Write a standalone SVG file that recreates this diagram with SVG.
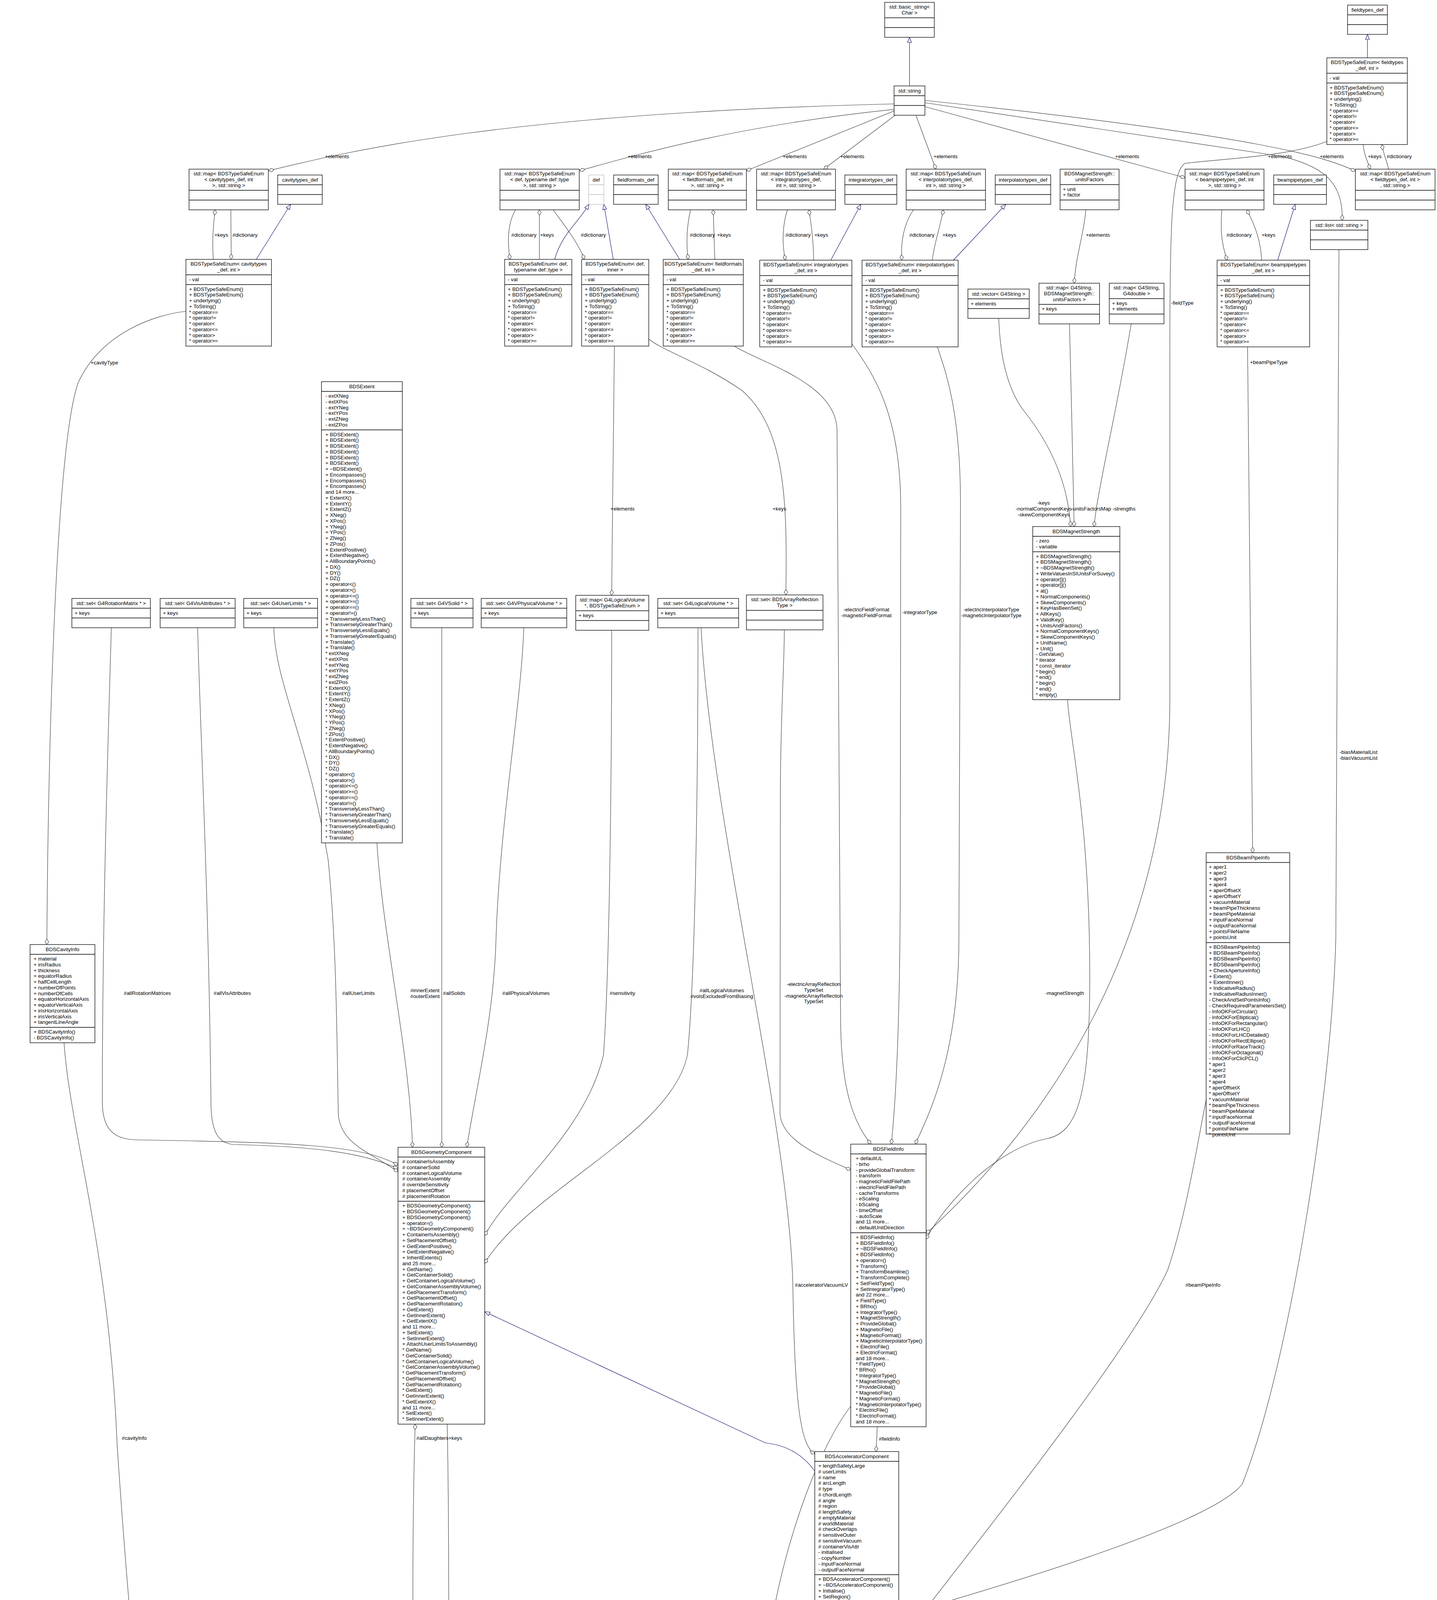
<svg xmlns="http://www.w3.org/2000/svg" width="3679" height="5228" viewBox="0 0 3679 5228">
<style>
text{font-family:"Liberation Sans",Arial,Helvetica,sans-serif;font-size:13.3px;fill:#000}
.c{text-anchor:middle}
.b{fill:#fff;stroke:#000;stroke-width:1.3}
.gr{fill:#bfbfbf;stroke:#000;stroke-width:1.3}
.gb{fill:#fff;stroke:#bfbfbf;stroke-width:1.3}
.s{stroke:#000;stroke-width:1.3;fill:none}
.sg{stroke:#bfbfbf;stroke-width:1.3;fill:none}
.e{fill:none;stroke:#404040;stroke-width:1.2;marker-start:url(#dia)}
.i{fill:none;stroke:#191970;stroke-width:1.2;marker-end:url(#tri)}
</style>
<defs>
<marker id="dia" markerUnits="userSpaceOnUse" markerWidth="20" markerHeight="14" viewBox="-2 -7 20 14" refX="0" refY="0" orient="auto"><path d="M0,0 L7,-4.5 L14,0 L7,4.5Z" fill="#fff" stroke="#404040" stroke-width="1.2"/></marker>
<marker id="tri" markerUnits="userSpaceOnUse" markerWidth="20" markerHeight="14" viewBox="-16 -7 18 14" refX="0" refY="0" orient="auto"><path d="M0,0 L-13,-5 L-13,5Z" fill="#fff" stroke="#191970" stroke-width="1.2"/></marker>
</defs>
<rect width="3679" height="5228" fill="#fff"/>

<g id="edges">
<path class="i" d="M2328.5,220 L2328.5,95.5"/>
<path class="i" d="M3501,148 L3501,88"/>
<path class="i" d="M656,664 L744,523"/>
<path class="i" d="M1420,664 C1438,600 1480,570 1508,523"/>
<path class="i" d="M1570,664 L1546,523"/>
<path class="i" d="M1740,664 L1653,523"/>
<path class="i" d="M2127,666 L2204,523"/>
<path class="i" d="M2441,666 L2575,523"/>
<path class="i" d="M3271,666 L3316,523"/>
<path class="e" d="M688,437 C900,385 1300,290 2289,266"/>
<path class="e" d="M1484,437 C1650,390 1900,320 2289,280"/>
<path class="e" d="M1911,437 L2289,284"/>
<path class="e" d="M2109,433 L2292,295"/>
<path class="e" d="M2396,433 L2345,295"/>
<path class="e" d="M3034,455 L2368,273"/>
<path class="e" d="M3436,564 C3440,470 3390,425 3280,400 L2368,263"/>
<path class="e" d="M3470,438 C3400,405 3250,350 2368,257"/>
<path class="e" d="M551,537 C545,580 543,620 546,664"/>
<path class="e" d="M592,664 L591,537"/>
<path class="e" d="M1381,537 L1381,664"/>
<path class="e" d="M1306,664 C1298,620 1300,570 1320,537"/>
<path class="e" d="M1496,664 C1480,620 1440,570 1416,537"/>
<path class="e" d="M1762,664 C1756,620 1758,580 1768,537"/>
<path class="e" d="M1826,537 L1830,664"/>
<path class="e" d="M2011,666 C2000,620 2005,570 2016,537"/>
<path class="e" d="M2071,537 C2078,580 2083,620 2083,666"/>
<path class="e" d="M2309,666 C2305,620 2315,570 2339,537"/>
<path class="e" d="M2415,537 C2405,590 2390,630 2387,666"/>
<path class="e" d="M2750,725 C2755,650 2775,600 2780,537"/>
<path class="e" d="M3142,666 C3125,620 3125,580 3128,537"/>
<path class="e" d="M3192,537 C3215,580 3228,620 3230,666"/>
<path class="e" d="M3508,433 C3500,410 3492,395 3490,370"/>
<path class="e" d="M3538,370 C3542,395 3550,410 3555,433"/>
<path class="e" d="M2371,3158 C2600,2950 2990,2500 2995,1800 L2995,900 C2995,560 3000,440 3034,418 C3150,405 3300,400 3397,362"/>
<path class="e" d="M2371,3172 C2420,3080 2550,2940 2680,2915 C2760,2900 2790,2800 2790,2500 C2790,2100 2740,1900 2733,1791"/>
<path class="e" d="M2230,2929 C2190,2880 2152,2800 2152,2600 L2143,1100 C2140,980 1950,930 1880,886"/>
<path class="e" d="M2282,2929 C2295,2800 2305,2600 2305,2200 L2306,1300 C2306,1050 2230,950 2181,880"/>
<path class="e" d="M2343,2929 C2380,2850 2455,2700 2455,2400 L2459,1300 C2460,1050 2420,950 2400,888"/>
<path class="e" d="M2741,1348 C2735,1250 2700,1150 2620,1050 C2575,990 2560,900 2557,815"/>
<path class="e" d="M2750,1348 C2748,1200 2742,1000 2738,829"/>
<path class="e" d="M2801,1348 C2810,1250 2860,1050 2896,829"/>
<path class="e" d="M1566,1524 C1568,1300 1572,1000 1573,886"/>
<path class="e" d="M2012,1523 C2015,1300 2015,1100 1900,1000 C1800,930 1700,900 1661,868"/>
<path class="e" d="M1056,2937 C1050,2700 980,2400 965,2158"/>
<path class="e" d="M1131,2937 L1131,1607"/>
<path class="e" d="M1195,2937 C1220,2780 1265,2600 1270,2400 C1280,2100 1335,1800 1341,1607"/>
<path class="e" d="M1019,2983 C930,2930 750,2925 350,2918 C290,2917 262,2890 262,2820 C262,2300 280,1800 285,1607"/>
<path class="e" d="M1019,2992 C930,2950 800,2935 600,2930 C560,2928 540,2900 540,2820 C535,2300 510,1800 506,1607"/>
<path class="e" d="M1019,3000 C950,2950 870,2930 866,2850 C862,2600 860,2400 840,2200 C790,1900 705,1750 701,1607"/>
<path class="e" d="M1241,3163 C1300,3050 1500,2900 1545,2700 C1560,2500 1566,2000 1566,1614"/>
<path class="e" d="M1241,3234 C1350,3050 1720,2900 1760,2700 C1780,2500 1787,2000 1787,1607"/>
<path class="e" d="M2086,3722 C2050,3700 2035,3600 2030,3300 C2025,2900 1820,2100 1795,1607"/>
<path class="e" d="M2178,2995 C2100,2960 2000,2920 1997,2850 L1998,2000 C2000,1800 2008,1700 2008,1613"/>
<path class="e" d="M1896,5013 C1900,4800 1925,4500 1960,4250 C2000,3950 2100,3700 2178,3600"/>
<path class="e" d="M2243,3716 L2246,3652"/>
<path class="e" d="M1063,3646 C1055,3900 1055,4300 1063,4567"/>
<path class="e" d="M1145,4567 C1150,4300 1150,3900 1145,3646"/>
<path class="i" d="M2086,3766 C2060,3730 2020,3700 1960,3694 L1241,3358"/>
<path class="i" d="M2002,5013 C2030,4960 2060,4900 2086,4845"/>
<path class="i" d="M2208,5028 C2215,5000 2222,4980 2222,4941"/>
<path class="e" d="M2138,4941 C2130,4960 2115,4985 2128,5028"/>
<path class="e" d="M1823,5108 C1500,5080 600,5050 450,4950 C380,4800 320,4000 300,3700 C280,3200 180,2900 164,2670"/>
<path class="e" d="M120,2418 C122,2000 140,1150 200,980 C260,850 400,805 476,797"/>
<path class="e" d="M3207,2183 C3205,1600 3196,1100 3194,888"/>
<path class="e" d="M2301,4208 C2500,3950 2900,3450 2990,3250 C3040,3100 3070,2900 3088,2816"/>
<path class="e" d="M2301,4136 C2600,4050 3100,3900 3180,3800 C3300,3500 3410,2800 3420,2400 L3428,639"/>
</g>

<g id="edge-labels">
<text x="832" y="405">+elements</text>
<text x="1607" y="405">+elements</text>
<text x="2004" y="405">+elements</text>
<text x="2151" y="405">+elements</text>
<text x="2390" y="405">+elements</text>
<text x="2855" y="405">+elements</text>
<text x="3246" y="405">+elements</text>
<text x="3379" y="405">+elements</text>
<text x="3502" y="405">+keys</text>
<text x="3550" y="405">#dictionary</text>
<text x="549" y="606">+keys</text>
<text x="595" y="606">#dictionary</text>
<text x="1309" y="606">#dictionary</text>
<text x="1383" y="606">+keys</text>
<text x="1487" y="606">#dictionary</text>
<text x="1766" y="606">#dictionary</text>
<text x="1836" y="606">+keys</text>
<text x="2011" y="606">#dictionary</text>
<text x="2085" y="606">+keys</text>
<text x="2328" y="606">#dictionary</text>
<text x="2413" y="606">+keys</text>
<text x="2780" y="606">+elements</text>
<text x="3140" y="606">#dictionary</text>
<text x="3230" y="606">+keys</text>
<text x="2998" y="780">-fieldType</text>
<text x="232" y="933">+cavityType</text>
<text x="3200" y="932">+beamPipeType</text>
<text x="1563" y="1307">+elements</text>
<text x="1978" y="1307">+keys</text>
<text class="c" x="2672" y="1292"><tspan x="2672">-keys</tspan><tspan x="2672" dy="14.75">-normalComponentKeys</tspan><tspan x="2672" dy="14.75">-skewComponentKeys</tspan></text>
<text x="2742" y="1307">-unitsFactorsMap</text>
<text x="2848" y="1307">-strengths</text>
<text class="c" x="2218" y="1565"><tspan x="2218">-electricFieldFormat</tspan><tspan x="2218" dy="14.75">-magneticFieldFormat</tspan></text>
<text x="2310" y="1572">-integratorType</text>
<text class="c" x="2538" y="1565"><tspan x="2538">-electricInterpolatorType</tspan><tspan x="2538" dy="14.75">-magneticInterpolatorType</tspan></text>
<text class="c" x="3478" y="1930"><tspan x="3478">-biasMaterialList</tspan><tspan x="3478" dy="14.75">-biasVacuumList</tspan></text>
<text x="317" y="2547">#allRotationMatrices</text>
<text x="547" y="2547">#allVisAttributes</text>
<text x="876" y="2547">#allUserLimits</text>
<text class="c" x="1088" y="2540"><tspan x="1088">#innerExtent</tspan><tspan x="1088" dy="14.75">#outerExtent</tspan></text>
<text x="1134" y="2547">#allSolids</text>
<text x="1286" y="2547">#allPhysicalVolumes</text>
<text x="1561" y="2547">#sensitivity</text>
<text class="c" x="1848" y="2540"><tspan x="1848">#allLogicalVolumes</tspan><tspan x="1848" dy="14.75">#volsExcludedFromBiasing</tspan></text>
<text class="c" x="2083" y="2524"><tspan x="2083">-electricArrayReflection</tspan><tspan x="2083" dy="14.75">TypeSet</tspan><tspan x="2083" dy="14.75">-magneticArrayReflection</tspan><tspan x="2083" dy="14.75">TypeSet</tspan></text>
<text x="2676" y="2547">-magnetStrength</text>
<text x="2035" y="3294">#acceleratorVacuumLV</text>
<text x="3035" y="3294">#beamPipeInfo</text>
<text x="312" y="3686">#cavityInfo</text>
<text x="1066" y="3686">#allDaughters</text>
<text x="1148" y="3686">+keys</text>
<text x="2250" y="3688">#fieldInfo</text>
<text x="1958" y="4510">#vacuumFieldInfo</text>
<text x="2120" y="4966"><tspan x="2120">#endPieceAfter</tspan><tspan x="2120" dy="14.75">#endPieceBefore</tspan></text>
</g>

<g id="n_basic_string"><rect class="b" x="2265" y="6" width="127" height="89.5"/><path class="s" d="M2265,45.5h127M2265,70.5h127"/><text class="c" x="2328.5" y="22"><tspan x="2328.5">std::basic_string&lt;</tspan><tspan x="2328.5" dy="14.75">Char &gt;</tspan></text></g>
<g id="n_string"><rect class="b" x="2289" y="220" width="79" height="75"/><path class="s" d="M2289,245h79M2289,270h79"/><text class="c" x="2328.5" y="237">std::string</text></g>
<g id="n_fieldtypes_def"><rect class="b" x="3450" y="13" width="102" height="75"/><path class="s" d="M3450,38h102M3450,63h102"/><text class="c" x="3501" y="30">fieldtypes_def</text></g>
<g id="n_tse_fieldtypes"><rect class="b" x="3397" y="148" width="206" height="222"/><path class="s" d="M3397,187.5h206M3397,212.5h206"/><text class="c" x="3500" y="164"><tspan x="3500">BDSTypeSafeEnum&lt; fieldtypes</tspan><tspan x="3500" dy="14.75">_def, int &gt;</tspan></text><text x="3404" y="203.5">- val</text><text x="3404" y="228.5"><tspan x="3404">+ BDSTypeSafeEnum()</tspan><tspan x="3404" dy="14.75">+ BDSTypeSafeEnum()</tspan><tspan x="3404" dy="14.75">+ underlying()</tspan><tspan x="3404" dy="14.75">+ ToString()</tspan><tspan x="3404" dy="14.75">* operator==</tspan><tspan x="3404" dy="14.75">* operator!=</tspan><tspan x="3404" dy="14.75">* operator&lt;</tspan><tspan x="3404" dy="14.75">* operator&lt;=</tspan><tspan x="3404" dy="14.75">* operator&gt;</tspan><tspan x="3404" dy="14.75">* operator&gt;=</tspan></text></g>
<g id="n_map_fieldtypes"><rect class="b" x="3470" y="433" width="204" height="104.25"/><path class="s" d="M3470,487.25h204M3470,512.25h204"/><text class="c" x="3572" y="449"><tspan x="3572">std::map&lt; BDSTypeSafeEnum</tspan><tspan x="3572" dy="14.75">&lt; fieldtypes_def, int &gt;</tspan><tspan x="3572" dy="14.75">, std::string &gt;</tspan></text></g>
<g id="n_list_string"><rect class="b" x="3355" y="564" width="147" height="75"/><path class="s" d="M3355,589h147M3355,614h147"/><text class="c" x="3428.5" y="581">std::list&lt; std::string &gt;</text></g>
<g id="n_map_beampipetypes"><rect class="b" x="3034" y="433" width="202" height="104.25"/><path class="s" d="M3034,487.25h202M3034,512.25h202"/><text class="c" x="3135" y="449"><tspan x="3135">std::map&lt; BDSTypeSafeEnum</tspan><tspan x="3135" dy="14.75">&lt; beampipetypes_def, int</tspan><tspan x="3135" dy="14.75">&gt;, std::string &gt;</tspan></text></g>
<g id="n_beampipetypes_def"><rect class="b" x="3261" y="448" width="135" height="75"/><path class="s" d="M3261,473h135M3261,498h135"/><text class="c" x="3328.5" y="465">beampipetypes_def</text></g>
<g id="n_tse_beampipetypes"><rect class="b" x="3116" y="666" width="237" height="222"/><path class="s" d="M3116,705.5h237M3116,730.5h237"/><text class="c" x="3234.5" y="682"><tspan x="3234.5">BDSTypeSafeEnum&lt; beampipetypes</tspan><tspan x="3234.5" dy="14.75">_def, int &gt;</tspan></text><text x="3124" y="721.5">- val</text><text x="3124" y="746.5"><tspan x="3124">+ BDSTypeSafeEnum()</tspan><tspan x="3124" dy="14.75">+ BDSTypeSafeEnum()</tspan><tspan x="3124" dy="14.75">+ underlying()</tspan><tspan x="3124" dy="14.75">+ ToString()</tspan><tspan x="3124" dy="14.75">* operator==</tspan><tspan x="3124" dy="14.75">* operator!=</tspan><tspan x="3124" dy="14.75">* operator&lt;</tspan><tspan x="3124" dy="14.75">* operator&lt;=</tspan><tspan x="3124" dy="14.75">* operator&gt;</tspan><tspan x="3124" dy="14.75">* operator&gt;=</tspan></text></g>
<g id="n_unitsFactors"><rect class="b" x="2714" y="433" width="151" height="104"/><path class="s" d="M2714,472.5h151M2714,512h151"/><text class="c" x="2789.5" y="449"><tspan x="2789.5">BDSMagnetStrength::</tspan><tspan x="2789.5" dy="14.75">unitsFactors</tspan></text><text x="2721" y="488.5"><tspan x="2721">+ unit</tspan><tspan x="2721" dy="14.75">+ factor</tspan></text></g>
<g id="n_map_unitsFactors"><rect class="b" x="2660" y="725" width="155" height="104.25"/><path class="s" d="M2660,779.25h155M2660,804.25h155"/><text class="c" x="2737.5" y="741"><tspan x="2737.5">std::map&lt; G4String,</tspan><tspan x="2737.5" dy="14.75">BDSMagnetStrength::</tspan><tspan x="2737.5" dy="14.75">unitsFactors &gt;</tspan></text><text x="2667" y="795.25">+ keys</text></g>
<g id="n_map_G4double"><rect class="b" x="2840" y="725" width="140" height="104"/><path class="s" d="M2840,764.5h140M2840,804h140"/><text class="c" x="2910" y="741"><tspan x="2910">std::map&lt; G4String,</tspan><tspan x="2910" dy="14.75">G4double &gt;</tspan></text><text x="2847" y="780.5"><tspan x="2847">+ keys</tspan><tspan x="2847" dy="14.75">+ elements</tspan></text></g>
<g id="n_vector_G4String"><rect class="b" x="2478" y="740" width="157" height="75"/><path class="s" d="M2478,765h157M2478,790h157"/><text class="c" x="2556.5" y="757">std::vector&lt; G4String &gt;</text><text x="2485" y="782">+ elements</text></g>
<g id="n_tse_interpolatortypes"><rect class="b" x="2207" y="666" width="246" height="222"/><path class="s" d="M2207,705.5h246M2207,730.5h246"/><text class="c" x="2330" y="682"><tspan x="2330">BDSTypeSafeEnum&lt; interpolatortypes</tspan><tspan x="2330" dy="14.75">_def, int &gt;</tspan></text><text x="2215" y="721.5">- val</text><text x="2215" y="746.5"><tspan x="2215">+ BDSTypeSafeEnum()</tspan><tspan x="2215" dy="14.75">+ BDSTypeSafeEnum()</tspan><tspan x="2215" dy="14.75">+ underlying()</tspan><tspan x="2215" dy="14.75">+ ToString()</tspan><tspan x="2215" dy="14.75">* operator==</tspan><tspan x="2215" dy="14.75">* operator!=</tspan><tspan x="2215" dy="14.75">* operator&lt;</tspan><tspan x="2215" dy="14.75">* operator&lt;=</tspan><tspan x="2215" dy="14.75">* operator&gt;</tspan><tspan x="2215" dy="14.75">* operator&gt;=</tspan></text></g>
<g id="n_interpolatortypes_def"><rect class="b" x="2548" y="448" width="142" height="75"/><path class="s" d="M2548,473h142M2548,498h142"/><text class="c" x="2619" y="465">interpolatortypes_def</text></g>
<g id="n_map_interpolatortypes"><rect class="b" x="2320" y="433" width="203" height="104.25"/><path class="s" d="M2320,487.25h203M2320,512.25h203"/><text class="c" x="2421.5" y="449"><tspan x="2421.5">std::map&lt; BDSTypeSafeEnum</tspan><tspan x="2421.5" dy="14.75">&lt; interpolatortypes_def,</tspan><tspan x="2421.5" dy="14.75">int &gt;, std::string &gt;</tspan></text></g>
<g id="n_tse_integratortypes"><rect class="b" x="1945" y="666" width="236" height="222"/><path class="s" d="M1945,705.5h236M1945,730.5h236"/><text class="c" x="2063" y="682"><tspan x="2063">BDSTypeSafeEnum&lt; integratortypes</tspan><tspan x="2063" dy="14.75">_def, int &gt;</tspan></text><text x="1953" y="721.5">- val</text><text x="1953" y="746.5"><tspan x="1953">+ BDSTypeSafeEnum()</tspan><tspan x="1953" dy="14.75">+ BDSTypeSafeEnum()</tspan><tspan x="1953" dy="14.75">+ underlying()</tspan><tspan x="1953" dy="14.75">+ ToString()</tspan><tspan x="1953" dy="14.75">* operator==</tspan><tspan x="1953" dy="14.75">* operator!=</tspan><tspan x="1953" dy="14.75">* operator&lt;</tspan><tspan x="1953" dy="14.75">* operator&lt;=</tspan><tspan x="1953" dy="14.75">* operator&gt;</tspan><tspan x="1953" dy="14.75">* operator&gt;=</tspan></text></g>
<g id="n_integratortypes_def"><rect class="b" x="2163" y="448" width="133" height="75"/><path class="s" d="M2163,473h133M2163,498h133"/><text class="c" x="2229.5" y="465">integratortypes_def</text></g>
<g id="n_map_integratortypes"><rect class="b" x="1937" y="433" width="202" height="104.25"/><path class="s" d="M1937,487.25h202M1937,512.25h202"/><text class="c" x="2038" y="449"><tspan x="2038">std::map&lt; BDSTypeSafeEnum</tspan><tspan x="2038" dy="14.75">&lt; integratortypes_def,</tspan><tspan x="2038" dy="14.75">int &gt;, std::string &gt;</tspan></text></g>
<g id="n_map_fieldformats"><rect class="b" x="1711" y="433" width="200" height="104.25"/><path class="s" d="M1711,487.25h200M1711,512.25h200"/><text class="c" x="1811" y="449"><tspan x="1811">std::map&lt; BDSTypeSafeEnum</tspan><tspan x="1811" dy="14.75">&lt; fieldformats_def, int</tspan><tspan x="1811" dy="14.75">&gt;, std::string &gt;</tspan></text></g>
<g id="n_fieldformats_def"><rect class="b" x="1571" y="448" width="114" height="75"/><path class="s" d="M1571,473h114M1571,498h114"/><text class="c" x="1628" y="465">fieldformats_def</text></g>
<g id="n_tse_fieldformats"><rect class="b" x="1698" y="664" width="205" height="222"/><path class="s" d="M1698,703.5h205M1698,728.5h205"/><text class="c" x="1800.5" y="680"><tspan x="1800.5">BDSTypeSafeEnum&lt; fieldformats</tspan><tspan x="1800.5" dy="14.75">_def, int &gt;</tspan></text><text x="1706" y="719.5">- val</text><text x="1706" y="744.5"><tspan x="1706">+ BDSTypeSafeEnum()</tspan><tspan x="1706" dy="14.75">+ BDSTypeSafeEnum()</tspan><tspan x="1706" dy="14.75">+ underlying()</tspan><tspan x="1706" dy="14.75">+ ToString()</tspan><tspan x="1706" dy="14.75">* operator==</tspan><tspan x="1706" dy="14.75">* operator!=</tspan><tspan x="1706" dy="14.75">* operator&lt;</tspan><tspan x="1706" dy="14.75">* operator&lt;=</tspan><tspan x="1706" dy="14.75">* operator&gt;</tspan><tspan x="1706" dy="14.75">* operator&gt;=</tspan></text></g>
<g id="n_def"><rect class="gb" x="1507" y="448" width="39" height="75"/><path class="sg" d="M1507,473h39M1507,498h39"/><text class="c" x="1526.5" y="465">def</text></g>
<g id="n_map_def"><rect class="b" x="1280" y="433" width="203" height="104.25"/><path class="s" d="M1280,487.25h203M1280,512.25h203"/><text class="c" x="1381.5" y="449"><tspan x="1381.5">std::map&lt; BDSTypeSafeEnum</tspan><tspan x="1381.5" dy="14.75">&lt; def, typename def::type</tspan><tspan x="1381.5" dy="14.75">&gt;, std::string &gt;</tspan></text></g>
<g id="n_tse_def_type"><rect class="b" x="1292" y="664" width="172" height="222"/><path class="s" d="M1292,703.5h172M1292,728.5h172"/><text class="c" x="1378" y="680"><tspan x="1378">BDSTypeSafeEnum&lt; def,</tspan><tspan x="1378" dy="14.75">typename def::type &gt;</tspan></text><text x="1300" y="719.5">- val</text><text x="1300" y="744.5"><tspan x="1300">+ BDSTypeSafeEnum()</tspan><tspan x="1300" dy="14.75">+ BDSTypeSafeEnum()</tspan><tspan x="1300" dy="14.75">+ underlying()</tspan><tspan x="1300" dy="14.75">+ ToString()</tspan><tspan x="1300" dy="14.75">* operator==</tspan><tspan x="1300" dy="14.75">* operator!=</tspan><tspan x="1300" dy="14.75">* operator&lt;</tspan><tspan x="1300" dy="14.75">* operator&lt;=</tspan><tspan x="1300" dy="14.75">* operator&gt;</tspan><tspan x="1300" dy="14.75">* operator&gt;=</tspan></text></g>
<g id="n_tse_def_inner"><rect class="b" x="1489" y="664" width="172" height="222"/><path class="s" d="M1489,703.5h172M1489,728.5h172"/><text class="c" x="1575" y="680"><tspan x="1575">BDSTypeSafeEnum&lt; def,</tspan><tspan x="1575" dy="14.75">inner &gt;</tspan></text><text x="1497" y="719.5">- val</text><text x="1497" y="744.5"><tspan x="1497">+ BDSTypeSafeEnum()</tspan><tspan x="1497" dy="14.75">+ BDSTypeSafeEnum()</tspan><tspan x="1497" dy="14.75">+ underlying()</tspan><tspan x="1497" dy="14.75">+ ToString()</tspan><tspan x="1497" dy="14.75">* operator==</tspan><tspan x="1497" dy="14.75">* operator!=</tspan><tspan x="1497" dy="14.75">* operator&lt;</tspan><tspan x="1497" dy="14.75">* operator&lt;=</tspan><tspan x="1497" dy="14.75">* operator&gt;</tspan><tspan x="1497" dy="14.75">* operator&gt;=</tspan></text></g>
<g id="n_map_cavitytypes"><rect class="b" x="484" y="433" width="203" height="104.25"/><path class="s" d="M484,487.25h203M484,512.25h203"/><text class="c" x="585.5" y="449"><tspan x="585.5">std::map&lt; BDSTypeSafeEnum</tspan><tspan x="585.5" dy="14.75">&lt; cavitytypes_def, int</tspan><tspan x="585.5" dy="14.75">&gt;, std::string &gt;</tspan></text></g>
<g id="n_cavitytypes_def"><rect class="b" x="711" y="448" width="114" height="75"/><path class="s" d="M711,473h114M711,498h114"/><text class="c" x="768" y="465">cavitytypes_def</text></g>
<g id="n_tse_cavitytypes"><rect class="b" x="476" y="664" width="219" height="222"/><path class="s" d="M476,703.5h219M476,728.5h219"/><text class="c" x="585.5" y="680"><tspan x="585.5">BDSTypeSafeEnum&lt; cavitytypes</tspan><tspan x="585.5" dy="14.75">_def, int &gt;</tspan></text><text x="484" y="719.5">- val</text><text x="484" y="744.5"><tspan x="484">+ BDSTypeSafeEnum()</tspan><tspan x="484" dy="14.75">+ BDSTypeSafeEnum()</tspan><tspan x="484" dy="14.75">+ underlying()</tspan><tspan x="484" dy="14.75">+ ToString()</tspan><tspan x="484" dy="14.75">* operator==</tspan><tspan x="484" dy="14.75">* operator!=</tspan><tspan x="484" dy="14.75">* operator&lt;</tspan><tspan x="484" dy="14.75">* operator&lt;=</tspan><tspan x="484" dy="14.75">* operator&gt;</tspan><tspan x="484" dy="14.75">* operator&gt;=</tspan></text></g>

<g id="n_BDSExtent"><rect class="b" x="823" y="977" width="207" height="1180.75"/><path class="s" d="M823,1002h207M823,1100.5h207"/><text class="c" x="926.5" y="994">BDSExtent</text><text x="833" y="1018"><tspan x="833">- extXNeg</tspan><tspan x="833" dy="14.75">- extXPos</tspan><tspan x="833" dy="14.75">- extYNeg</tspan><tspan x="833" dy="14.75">- extYPos</tspan><tspan x="833" dy="14.75">- extZNeg</tspan><tspan x="833" dy="14.75">- extZPos</tspan></text><text x="833" y="1116.5"><tspan x="833">+ BDSExtent()</tspan><tspan x="833" dy="14.75">+ BDSExtent()</tspan><tspan x="833" dy="14.75">+ BDSExtent()</tspan><tspan x="833" dy="14.75">+ BDSExtent()</tspan><tspan x="833" dy="14.75">+ BDSExtent()</tspan><tspan x="833" dy="14.75">+ BDSExtent()</tspan><tspan x="833" dy="14.75">+ ~BDSExtent()</tspan><tspan x="833" dy="14.75">+ Encompasses()</tspan><tspan x="833" dy="14.75">+ Encompasses()</tspan><tspan x="833" dy="14.75">+ Encompasses()</tspan><tspan x="833" dy="14.75">and 14 more...</tspan><tspan x="833" dy="14.75">+ ExtentX()</tspan><tspan x="833" dy="14.75">+ ExtentY()</tspan><tspan x="833" dy="14.75">+ ExtentZ()</tspan><tspan x="833" dy="14.75">+ XNeg()</tspan><tspan x="833" dy="14.75">+ XPos()</tspan><tspan x="833" dy="14.75">+ YNeg()</tspan><tspan x="833" dy="14.75">+ YPos()</tspan><tspan x="833" dy="14.75">+ ZNeg()</tspan><tspan x="833" dy="14.75">+ ZPos()</tspan><tspan x="833" dy="14.75">+ ExtentPositive()</tspan><tspan x="833" dy="14.75">+ ExtentNegative()</tspan><tspan x="833" dy="14.75">+ AllBoundaryPoints()</tspan><tspan x="833" dy="14.75">+ DX()</tspan><tspan x="833" dy="14.75">+ DY()</tspan><tspan x="833" dy="14.75">+ DZ()</tspan><tspan x="833" dy="14.75">+ operator&lt;()</tspan><tspan x="833" dy="14.75">+ operator&gt;()</tspan><tspan x="833" dy="14.75">+ operator&lt;=()</tspan><tspan x="833" dy="14.75">+ operator&gt;=()</tspan><tspan x="833" dy="14.75">+ operator==()</tspan><tspan x="833" dy="14.75">+ operator!=()</tspan><tspan x="833" dy="14.75">+ TransverselyLessThan()</tspan><tspan x="833" dy="14.75">+ TransverselyGreaterThan()</tspan><tspan x="833" dy="14.75">+ TransverselyLessEquals()</tspan><tspan x="833" dy="14.75">+ TransverselyGreaterEquals()</tspan><tspan x="833" dy="14.75">+ Translate()</tspan><tspan x="833" dy="14.75">+ Translate()</tspan><tspan x="833" dy="14.75">* extXNeg</tspan><tspan x="833" dy="14.75">* extXPos</tspan><tspan x="833" dy="14.75">* extYNeg</tspan><tspan x="833" dy="14.75">* extYPos</tspan><tspan x="833" dy="14.75">* extZNeg</tspan><tspan x="833" dy="14.75">* extZPos</tspan><tspan x="833" dy="14.75">* ExtentX()</tspan><tspan x="833" dy="14.75">* ExtentY()</tspan><tspan x="833" dy="14.75">* ExtentZ()</tspan><tspan x="833" dy="14.75">* XNeg()</tspan><tspan x="833" dy="14.75">* XPos()</tspan><tspan x="833" dy="14.75">* YNeg()</tspan><tspan x="833" dy="14.75">* YPos()</tspan><tspan x="833" dy="14.75">* ZNeg()</tspan><tspan x="833" dy="14.75">* ZPos()</tspan><tspan x="833" dy="14.75">* ExtentPositive()</tspan><tspan x="833" dy="14.75">* ExtentNegative()</tspan><tspan x="833" dy="14.75">* AllBoundaryPoints()</tspan><tspan x="833" dy="14.75">* DX()</tspan><tspan x="833" dy="14.75">* DY()</tspan><tspan x="833" dy="14.75">* DZ()</tspan><tspan x="833" dy="14.75">* operator&lt;()</tspan><tspan x="833" dy="14.75">* operator&gt;()</tspan><tspan x="833" dy="14.75">* operator&lt;=()</tspan><tspan x="833" dy="14.75">* operator&gt;=()</tspan><tspan x="833" dy="14.75">* operator==()</tspan><tspan x="833" dy="14.75">* operator!=()</tspan><tspan x="833" dy="14.75">* TransverselyLessThan()</tspan><tspan x="833" dy="14.75">* TransverselyGreaterThan()</tspan><tspan x="833" dy="14.75">* TransverselyLessEquals()</tspan><tspan x="833" dy="14.75">* TransverselyGreaterEquals()</tspan><tspan x="833" dy="14.75">* Translate()</tspan><tspan x="833" dy="14.75">* Translate()</tspan></text></g>

<g id="n_set_rot"><rect class="b" x="184" y="1532" width="201" height="75"/><path class="s" d="M184,1557h201M184,1582h201"/><text class="c" x="284.5" y="1549">std::set&lt; G4RotationMatrix * &gt;</text><text x="191" y="1574">+ keys</text></g>
<g id="n_set_vis"><rect class="b" x="410" y="1532" width="192" height="75"/><path class="s" d="M410,1557h192M410,1582h192"/><text class="c" x="506" y="1549">std::set&lt; G4VisAttributes * &gt;</text><text x="417" y="1574">+ keys</text></g>
<g id="n_set_ul"><rect class="b" x="624" y="1532" width="189" height="75"/><path class="s" d="M624,1557h189M624,1582h189"/><text class="c" x="718.5" y="1549">std::set&lt; G4UserLimits * &gt;</text><text x="631" y="1574">+ keys</text></g>
<g id="n_set_solid"><rect class="b" x="1052" y="1532" width="159" height="75"/><path class="s" d="M1052,1557h159M1052,1582h159"/><text class="c" x="1131.5" y="1549">std::set&lt; G4VSolid * &gt;</text><text x="1059" y="1574">+ keys</text></g>
<g id="n_set_pv"><rect class="b" x="1232" y="1532" width="219" height="75"/><path class="s" d="M1232,1557h219M1232,1582h219"/><text class="c" x="1341.5" y="1549">std::set&lt; G4VPhysicalVolume * &gt;</text><text x="1239" y="1574">+ keys</text></g>
<g id="n_map_lv"><rect class="b" x="1474" y="1524" width="187" height="89.5"/><path class="s" d="M1474,1563.5h187M1474,1588.5h187"/><text class="c" x="1567.5" y="1540"><tspan x="1567.5">std::map&lt; G4LogicalVolume</tspan><tspan x="1567.5" dy="14.75">*, BDSTypeSafeEnum &gt;</tspan></text><text x="1481" y="1579.5">+ keys</text></g>
<g id="n_set_lv"><rect class="b" x="1684" y="1532" width="207" height="75"/><path class="s" d="M1684,1557h207M1684,1582h207"/><text class="c" x="1787.5" y="1549">std::set&lt; G4LogicalVolume * &gt;</text><text x="1691" y="1574">+ keys</text></g>
<g id="n_set_arr"><rect class="b" x="1911" y="1523" width="196" height="89.5"/><path class="s" d="M1911,1562.5h196M1911,1587.5h196"/><text class="c" x="2009" y="1539"><tspan x="2009">std::set&lt; BDSArrayReflection</tspan><tspan x="2009" dy="14.75">Type &gt;</tspan></text></g>

<g id="n_BDSMagnetStrength"><rect class="b" x="2644" y="1348" width="223" height="443.25"/><path class="s" d="M2644,1373h223M2644,1412.5h223"/><text class="c" x="2755.5" y="1365">BDSMagnetStrength</text><text x="2652" y="1389"><tspan x="2652">- zero</tspan><tspan x="2652" dy="14.75">- variable</tspan></text><text x="2652" y="1428.5"><tspan x="2652">+ BDSMagnetStrength()</tspan><tspan x="2652" dy="14.75">+ BDSMagnetStrength()</tspan><tspan x="2652" dy="14.75">+ ~BDSMagnetStrength()</tspan><tspan x="2652" dy="14.75">+ WriteValuesInSIUnitsForSuvey()</tspan><tspan x="2652" dy="14.75">+ operator[]()</tspan><tspan x="2652" dy="14.75">+ operator[]()</tspan><tspan x="2652" dy="14.75">+ at()</tspan><tspan x="2652" dy="14.75">+ NormalComponents()</tspan><tspan x="2652" dy="14.75">+ SkewComponents()</tspan><tspan x="2652" dy="14.75">+ KeyHasBeenSet()</tspan><tspan x="2652" dy="14.75">+ AllKeys()</tspan><tspan x="2652" dy="14.75">+ ValidKey()</tspan><tspan x="2652" dy="14.75">+ UnitsAndFactors()</tspan><tspan x="2652" dy="14.75">+ NormalComponentKeys()</tspan><tspan x="2652" dy="14.75">+ SkewComponentKeys()</tspan><tspan x="2652" dy="14.75">+ UnitName()</tspan><tspan x="2652" dy="14.75">+ Unit()</tspan><tspan x="2652" dy="14.75">- GetValue()</tspan><tspan x="2652" dy="14.75">* iterator</tspan><tspan x="2652" dy="14.75">* const_iterator</tspan><tspan x="2652" dy="14.75">* begin()</tspan><tspan x="2652" dy="14.75">* end()</tspan><tspan x="2652" dy="14.75">* begin()</tspan><tspan x="2652" dy="14.75">* end()</tspan><tspan x="2652" dy="14.75">* empty()</tspan></text></g>

<g id="n_BDSBeamPipeInfo"><rect class="b" x="3088" y="2183" width="214" height="720"/><path class="s" d="M3088,2208h214M3088,2413h214"/><text class="c" x="3195" y="2200">BDSBeamPipeInfo</text><text x="3095" y="2224"><tspan x="3095">+ aper1</tspan><tspan x="3095" dy="15">+ aper2</tspan><tspan x="3095" dy="15">+ aper3</tspan><tspan x="3095" dy="15">+ aper4</tspan><tspan x="3095" dy="15">+ aperOffsetX</tspan><tspan x="3095" dy="15">+ aperOffsetY</tspan><tspan x="3095" dy="15">+ vacuumMaterial</tspan><tspan x="3095" dy="15">+ beamPipeThickness</tspan><tspan x="3095" dy="15">+ beamPipeMaterial</tspan><tspan x="3095" dy="15">+ inputFaceNormal</tspan><tspan x="3095" dy="15">+ outputFaceNormal</tspan><tspan x="3095" dy="15">+ pointsFileName</tspan><tspan x="3095" dy="15">+ pointsUnit</tspan></text><text x="3095" y="2429"><tspan x="3095">+ BDSBeamPipeInfo()</tspan><tspan x="3095" dy="15">+ BDSBeamPipeInfo()</tspan><tspan x="3095" dy="15">+ BDSBeamPipeInfo()</tspan><tspan x="3095" dy="15">+ BDSBeamPipeInfo()</tspan><tspan x="3095" dy="15">+ CheckApertureInfo()</tspan><tspan x="3095" dy="15">+ Extent()</tspan><tspan x="3095" dy="15">+ ExtentInner()</tspan><tspan x="3095" dy="15">+ IndicativeRadius()</tspan><tspan x="3095" dy="15">+ IndicativeRadiusInner()</tspan><tspan x="3095" dy="15">- CheckAndSetPointsInfo()</tspan><tspan x="3095" dy="15">- CheckRequiredParametersSet()</tspan><tspan x="3095" dy="15">- InfoOKForCircular()</tspan><tspan x="3095" dy="15">- InfoOKForElliptical()</tspan><tspan x="3095" dy="15">- InfoOKForRectangular()</tspan><tspan x="3095" dy="15">- InfoOKForLHC()</tspan><tspan x="3095" dy="15">- InfoOKForLHCDetailed()</tspan><tspan x="3095" dy="15">- InfoOKForRectEllipse()</tspan><tspan x="3095" dy="15">- InfoOKForRaceTrack()</tspan><tspan x="3095" dy="15">- InfoOKForOctagonal()</tspan><tspan x="3095" dy="15">- InfoOKForClicPCL()</tspan><tspan x="3095" dy="15">* aper1</tspan><tspan x="3095" dy="15">* aper2</tspan><tspan x="3095" dy="15">* aper3</tspan><tspan x="3095" dy="15">* aper4</tspan><tspan x="3095" dy="15">* aperOffsetX</tspan><tspan x="3095" dy="15">* aperOffsetY</tspan><tspan x="3095" dy="15">* vacuumMaterial</tspan><tspan x="3095" dy="15">* beamPipeThickness</tspan><tspan x="3095" dy="15">* beamPipeMaterial</tspan><tspan x="3095" dy="15">* inputFaceNormal</tspan><tspan x="3095" dy="15">* outputFaceNormal</tspan><tspan x="3095" dy="15">* pointsFileName</tspan><tspan x="3095" dy="15">* pointsUnit</tspan></text></g>

<g id="n_BDSCavityInfo"><rect class="b" x="77" y="2418" width="166" height="251.5"/><path class="s" d="M77,2443h166M77,2630h166"/><text class="c" x="160" y="2435">BDSCavityInfo</text><text x="86" y="2459"><tspan x="86">+ material</tspan><tspan x="86" dy="14.75">+ irisRadius</tspan><tspan x="86" dy="14.75">+ thickness</tspan><tspan x="86" dy="14.75">+ equatorRadius</tspan><tspan x="86" dy="14.75">+ halfCellLength</tspan><tspan x="86" dy="14.75">+ numberOfPoints</tspan><tspan x="86" dy="14.75">+ numberOfCells</tspan><tspan x="86" dy="14.75">+ equatorHorizontalAxis</tspan><tspan x="86" dy="14.75">+ equatorVerticalAxis</tspan><tspan x="86" dy="14.75">+ irisHorizontalAxis</tspan><tspan x="86" dy="14.75">+ irisVerticalAxis</tspan><tspan x="86" dy="14.75">+ tangentLineAngle</tspan></text><text x="86" y="2646"><tspan x="86">+ BDSCavityInfo()</tspan><tspan x="86" dy="14.75">- BDSCavityInfo()</tspan></text></g>

<g id="n_BDSGeometryComponent"><rect class="b" x="1019" y="2937" width="222" height="708.75"/><path class="s" d="M1019,2962h222M1019,3075.25h222"/><text class="c" x="1130" y="2954">BDSGeometryComponent</text><text x="1030" y="2978"><tspan x="1030"># containerIsAssembly</tspan><tspan x="1030" dy="14.75"># containerSolid</tspan><tspan x="1030" dy="14.75"># containerLogicalVolume</tspan><tspan x="1030" dy="14.75"># containerAssembly</tspan><tspan x="1030" dy="14.75"># overrideSensitivity</tspan><tspan x="1030" dy="14.75"># placementOffset</tspan><tspan x="1030" dy="14.75"># placementRotation</tspan></text><text x="1030" y="3091.25"><tspan x="1030">+ BDSGeometryComponent()</tspan><tspan x="1030" dy="14.75">+ BDSGeometryComponent()</tspan><tspan x="1030" dy="14.75">+ BDSGeometryComponent()</tspan><tspan x="1030" dy="14.75">+ operator=()</tspan><tspan x="1030" dy="14.75">+ ~BDSGeometryComponent()</tspan><tspan x="1030" dy="14.75">+ ContainerIsAssembly()</tspan><tspan x="1030" dy="14.75">+ SetPlacementOffset()</tspan><tspan x="1030" dy="14.75">+ GetExtentPositive()</tspan><tspan x="1030" dy="14.75">+ GetExtentNegative()</tspan><tspan x="1030" dy="14.75">+ InheritExtents()</tspan><tspan x="1030" dy="14.75">and 25 more...</tspan><tspan x="1030" dy="14.75">+ GetName()</tspan><tspan x="1030" dy="14.75">+ GetContainerSolid()</tspan><tspan x="1030" dy="14.75">+ GetContainerLogicalVolume()</tspan><tspan x="1030" dy="14.75">+ GetContainerAssemblyVolume()</tspan><tspan x="1030" dy="14.75">+ GetPlacementTransform()</tspan><tspan x="1030" dy="14.75">+ GetPlacementOffset()</tspan><tspan x="1030" dy="14.75">+ GetPlacementRotation()</tspan><tspan x="1030" dy="14.75">+ GetExtent()</tspan><tspan x="1030" dy="14.75">+ GetInnerExtent()</tspan><tspan x="1030" dy="14.75">+ GetExtentX()</tspan><tspan x="1030" dy="14.75">and 11 more...</tspan><tspan x="1030" dy="14.75">+ SetExtent()</tspan><tspan x="1030" dy="14.75">+ SetInnerExtent()</tspan><tspan x="1030" dy="14.75">+ AttachUserLimitsToAssembly()</tspan><tspan x="1030" dy="14.75">* GetName()</tspan><tspan x="1030" dy="14.75">* GetContainerSolid()</tspan><tspan x="1030" dy="14.75">* GetContainerLogicalVolume()</tspan><tspan x="1030" dy="14.75">* GetContainerAssemblyVolume()</tspan><tspan x="1030" dy="14.75">* GetPlacementTransform()</tspan><tspan x="1030" dy="14.75">* GetPlacementOffset()</tspan><tspan x="1030" dy="14.75">* GetPlacementRotation()</tspan><tspan x="1030" dy="14.75">* GetExtent()</tspan><tspan x="1030" dy="14.75">* GetInnerExtent()</tspan><tspan x="1030" dy="14.75">* GetExtentX()</tspan><tspan x="1030" dy="14.75">and 11 more...</tspan><tspan x="1030" dy="14.75">* SetExtent()</tspan><tspan x="1030" dy="14.75">* SetInnerExtent()</tspan></text></g>

<g id="n_BDSFieldInfo"><rect class="b" x="2178" y="2929" width="193" height="723.5"/><path class="s" d="M2178,2954h193M2178,3155.75h193"/><text class="c" x="2274.5" y="2946">BDSFieldInfo</text><text x="2191" y="2970"><tspan x="2191">+ defaultUL</tspan><tspan x="2191" dy="14.75">- brho</tspan><tspan x="2191" dy="14.75">- provideGlobalTransform</tspan><tspan x="2191" dy="14.75">- transform</tspan><tspan x="2191" dy="14.75">- magneticFieldFilePath</tspan><tspan x="2191" dy="14.75">- electricFieldFilePath</tspan><tspan x="2191" dy="14.75">- cacheTransforms</tspan><tspan x="2191" dy="14.75">- eScaling</tspan><tspan x="2191" dy="14.75">- bScaling</tspan><tspan x="2191" dy="14.75">- timeOffset</tspan><tspan x="2191" dy="14.75">- autoScale</tspan><tspan x="2191" dy="14.75">and 11 more...</tspan><tspan x="2191" dy="14.75">- defaultUnitDirection</tspan></text><text x="2191" y="3171.75"><tspan x="2191">+ BDSFieldInfo()</tspan><tspan x="2191" dy="14.75">+ BDSFieldInfo()</tspan><tspan x="2191" dy="14.75">+ ~BDSFieldInfo()</tspan><tspan x="2191" dy="14.75">+ BDSFieldInfo()</tspan><tspan x="2191" dy="14.75">+ operator=()</tspan><tspan x="2191" dy="14.75">+ Transform()</tspan><tspan x="2191" dy="14.75">+ TransformBeamline()</tspan><tspan x="2191" dy="14.75">+ TransformComplete()</tspan><tspan x="2191" dy="14.75">+ SetFieldType()</tspan><tspan x="2191" dy="14.75">+ SetIntegratorType()</tspan><tspan x="2191" dy="14.75">and 22 more...</tspan><tspan x="2191" dy="14.75">+ FieldType()</tspan><tspan x="2191" dy="14.75">+ BRho()</tspan><tspan x="2191" dy="14.75">+ IntegratorType()</tspan><tspan x="2191" dy="14.75">+ MagnetStrength()</tspan><tspan x="2191" dy="14.75">+ ProvideGlobal()</tspan><tspan x="2191" dy="14.75">+ MagneticFile()</tspan><tspan x="2191" dy="14.75">+ MagneticFormat()</tspan><tspan x="2191" dy="14.75">+ MagneticInterpolatorType()</tspan><tspan x="2191" dy="14.75">+ ElectricFile()</tspan><tspan x="2191" dy="14.75">+ ElectricFormat()</tspan><tspan x="2191" dy="14.75">and 18 more...</tspan><tspan x="2191" dy="14.75">* FieldType()</tspan><tspan x="2191" dy="14.75">* BRho()</tspan><tspan x="2191" dy="14.75">* IntegratorType()</tspan><tspan x="2191" dy="14.75">* MagnetStrength()</tspan><tspan x="2191" dy="14.75">* ProvideGlobal()</tspan><tspan x="2191" dy="14.75">* MagneticFile()</tspan><tspan x="2191" dy="14.75">* MagneticFormat()</tspan><tspan x="2191" dy="14.75">* MagneticInterpolatorType()</tspan><tspan x="2191" dy="14.75">* ElectricFile()</tspan><tspan x="2191" dy="14.75">* ElectricFormat()</tspan><tspan x="2191" dy="14.75">and 18 more...</tspan></text></g>

<g id="n_BDSAcceleratorComponent"><rect class="b" x="2086" y="3716" width="215" height="1225"/><path class="s" d="M2086,3741h215M2086,4031.25h215"/><text class="c" x="2193.5" y="3733">BDSAcceleratorComponent</text><text x="2095" y="3757"><tspan x="2095">+ lengthSafetyLarge</tspan><tspan x="2095" dy="14.75"># userLimits</tspan><tspan x="2095" dy="14.75"># name</tspan><tspan x="2095" dy="14.75"># arcLength</tspan><tspan x="2095" dy="14.75"># type</tspan><tspan x="2095" dy="14.75"># chordLength</tspan><tspan x="2095" dy="14.75"># angle</tspan><tspan x="2095" dy="14.75"># region</tspan><tspan x="2095" dy="14.75"># lengthSafety</tspan><tspan x="2095" dy="14.75"># emptyMaterial</tspan><tspan x="2095" dy="14.75"># worldMaterial</tspan><tspan x="2095" dy="14.75"># checkOverlaps</tspan><tspan x="2095" dy="14.75"># sensitiveOuter</tspan><tspan x="2095" dy="14.75"># sensitiveVacuum</tspan><tspan x="2095" dy="14.75"># containerVisAttr</tspan><tspan x="2095" dy="14.75">- initialised</tspan><tspan x="2095" dy="14.75">- copyNumber</tspan><tspan x="2095" dy="14.75">- inputFaceNormal</tspan><tspan x="2095" dy="14.75">- outputFaceNormal</tspan></text><text x="2095" y="4047.25"><tspan x="2095">+ BDSAcceleratorComponent()</tspan><tspan x="2095" dy="14.75">+ ~BDSAcceleratorComponent()</tspan><tspan x="2095" dy="14.75">+ Initialise()</tspan><tspan x="2095" dy="14.75">+ SetRegion()</tspan><tspan x="2095" dy="14.75">+ SetField()</tspan><tspan x="2095" dy="14.75">+ SetMinimumKineticEnergy()</tspan><tspan x="2095" dy="14.75">+ GetName()</tspan><tspan x="2095" dy="14.75">+ GetAngle()</tspan><tspan x="2095" dy="14.75">+ Sagitta()</tspan><tspan x="2095" dy="14.75">+ GetType()</tspan><tspan x="2095" dy="14.75">and 11 more...</tspan><tspan x="2095" dy="14.75">+ SetBiasVacuumList()</tspan><tspan x="2095" dy="14.75">+ SetBiasMaterialList()</tspan><tspan x="2095" dy="14.75">+ GetArcLength()</tspan><tspan x="2095" dy="14.75">+ GetChordLength()</tspan><tspan x="2095" dy="14.75">+ InputFaceNormal()</tspan><tspan x="2095" dy="14.75">+ OutputFaceNormal()</tspan><tspan x="2095" dy="14.75">+ AngledInputFace()</tspan><tspan x="2095" dy="14.75">+ AngledOutputFace()</tspan><tspan x="2095" dy="14.75">+ GetBiasVacuumList()</tspan><tspan x="2095" dy="14.75">+ GetBiasMaterialList()</tspan><tspan x="2095" dy="14.75">+ SetInputFaceNormal()</tspan><tspan x="2095" dy="14.75">+ SetOutputFaceNormal()</tspan><tspan x="2095" dy="14.75"># Build()</tspan><tspan x="2095" dy="14.75"># BuildContainerLogicalVolume()</tspan><tspan x="2095" dy="14.75"># SetAcceleratorVacuumLogical</tspan><tspan x="2095" dy="14.75">Volume()</tspan><tspan x="2095" dy="14.75"># SetAcceleratorVacuumLogical</tspan><tspan x="2095" dy="14.75">Volume()</tspan><tspan x="2095" dy="14.75"># BuildUserLimits()</tspan><tspan x="2095" dy="14.75"># AttachUserLimits()</tspan><tspan x="2095" dy="14.75">- BDSAcceleratorComponent()</tspan><tspan x="2095" dy="14.75">- operator=()</tspan><tspan x="2095" dy="14.75">- BDSAcceleratorComponent()</tspan><tspan x="2095" dy="14.75">* name</tspan><tspan x="2095" dy="14.75">* arcLength</tspan><tspan x="2095" dy="14.75">* type</tspan><tspan x="2095" dy="14.75">* chordLength</tspan><tspan x="2095" dy="14.75">* angle</tspan><tspan x="2095" dy="14.75">* region</tspan><tspan x="2095" dy="14.75">* lengthSafety</tspan><tspan x="2095" dy="14.75">* emptyMaterial</tspan><tspan x="2095" dy="14.75">* worldMaterial</tspan><tspan x="2095" dy="14.75">* checkOverlaps</tspan><tspan x="2095" dy="14.75">* sensitiveOuter</tspan><tspan x="2095" dy="14.75">* sensitiveVacuum</tspan><tspan x="2095" dy="14.75">* containerVisAttr</tspan><tspan x="2095" dy="14.75">* SetBiasVacuumList()</tspan><tspan x="2095" dy="14.75">* SetBiasMaterialList()</tspan><tspan x="2095" dy="14.75">* GetArcLength()</tspan><tspan x="2095" dy="14.75">* GetChordLength()</tspan><tspan x="2095" dy="14.75">* InputFaceNormal()</tspan><tspan x="2095" dy="14.75">* OutputFaceNormal()</tspan><tspan x="2095" dy="14.75">* AngledInputFace()</tspan><tspan x="2095" dy="14.75">* AngledOutputFace()</tspan><tspan x="2095" dy="14.75">* GetBiasVacuumList()</tspan><tspan x="2095" dy="14.75">* GetBiasMaterialList()</tspan><tspan x="2095" dy="14.75">* SetInputFaceNormal()</tspan><tspan x="2095" dy="14.75">* SetOutputFaceNormal()</tspan><tspan x="2095" dy="14.75">* operator=()</tspan><tspan x="2095" dy="14.75">* BDSAcceleratorComponent()</tspan></text></g>

<g id="n_set_geom"><rect class="b" x="1010" y="4567" width="250" height="75"/><path class="s" d="M1010,4592h250M1010,4617h250"/><text class="c" x="1135" y="4584">std::set&lt; BDSGeometryComponent * &gt;</text></g>

<g id="n_BDSCavityElement"><rect class="gr" x="1823" y="5013" width="211" height="207.5"/><path class="s" d="M1823,5038h211M1823,5063h211"/><text class="c" x="1928.5" y="5030">BDSCavityElement</text><text x="1834" y="5055">- vacuumMaterial</text><text x="1834" y="5079"><tspan x="1834">+ BDSCavityElement()</tspan><tspan x="1834" dy="14.75">+ ~BDSCavityElement()</tspan><tspan x="1834" dy="14.75"># BuildContainerLogicalVolume()</tspan><tspan x="1834" dy="14.75"># Build()</tspan><tspan x="1834" dy="14.75"># BuildField()</tspan><tspan x="1834" dy="14.75">- BDSCavityElement()</tspan><tspan x="1834" dy="14.75">- operator=()</tspan><tspan x="1834" dy="14.75">- BDSCavityElement()</tspan><tspan x="1834" dy="14.75">* operator=()</tspan><tspan x="1834" dy="14.75">* BDSCavityElement()</tspan></text></g>
<g id="n_BDSSimpleComponent"><rect class="b" x="2059" y="5028" width="211" height="178"/><path class="s" d="M2059,5053h211M2059,5078h211"/><text class="c" x="2164.5" y="5045">BDSSimpleComponent</text><text x="2070" y="5094"><tspan x="2070">+ BDSSimpleComponent()</tspan><tspan x="2070" dy="14.75">+ BDSSimpleComponent()</tspan><tspan x="2070" dy="14.75">+ ~BDSSimpleComponent()</tspan><tspan x="2070" dy="14.75">+ BDSSimpleComponent()</tspan><tspan x="2070" dy="14.75">+ operator=()</tspan><tspan x="2070" dy="14.75">+ BDSSimpleComponent()</tspan><tspan x="2070" dy="14.75"># Build()</tspan><tspan x="2070" dy="14.75"># BuildContainerLogicalVolume()</tspan></text></g>
</svg>
